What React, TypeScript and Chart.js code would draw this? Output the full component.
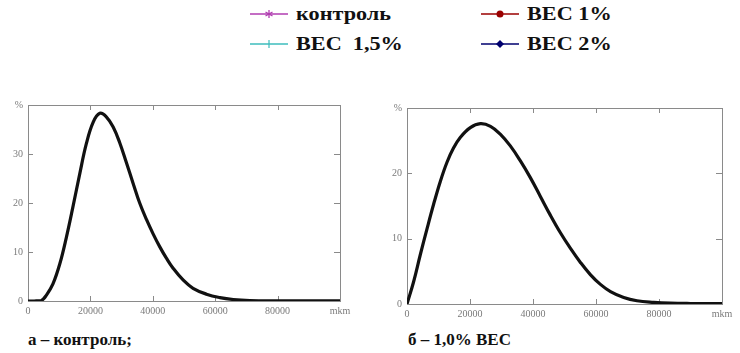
import React, { useEffect, useRef } from "react";
import { Chart, registerables } from "chart.js";

Chart.register(...registerables);

// Control curve (а – контроль)
const ctrlX = [0, 2000, 4300, 5900, 8000, 10200, 12300, 14400, 16600, 18700, 20900, 23000, 25100, 27300, 29400, 31500, 33700, 35800, 38000, 40100, 42200, 44400, 46500, 49700, 52900, 57200, 61500, 65800, 71100, 80000, 90000, 100000];
const ctrlY = [0, 0, 0.1, 1.2, 3.5, 7.6, 13, 19.2, 26, 32.1, 36.5, 38.3, 37.6, 35.5, 32.3, 28.3, 24.0, 20.0, 16.6, 13.7, 11.1, 8.7, 6.7, 4.3, 2.6, 1.4, 0.7, 0.3, 0.1, 0.05, 0.05, 0.05];

// 1,0% ВЕС curve (б)
const bec1X = [0, 2100, 4200, 6350, 8470, 10600, 12700, 14800, 16900, 20100, 23300, 26500, 29600, 32800, 36000, 39200, 42300, 45500, 48700, 51900, 55000, 58200, 61400, 64600, 68800, 73000, 78300, 83600, 90000, 100000];
const bec1Y = [0, 3.4, 7.5, 11.5, 15.3, 18.8, 21.7, 23.9, 25.5, 27.0, 27.6, 27.2, 26.0, 24.2, 21.9, 19.3, 16.5, 13.6, 10.9, 8.5, 6.4, 4.5, 3.0, 1.9, 1.0, 0.5, 0.25, 0.12, 0.08, 0.08];

const xTicks = [0, 20000, 40000, 60000, 80000, 100000];
const xUnit = "mkm";
const yUnit = "%";
const leftYMax = 40;
const rightYMax = 30;

const legendItems = [
  { label: "контроль", color: "#b03cb0", marker: "star" },
  { label: "ВЕС 1%", color: "#9a0000", marker: "circle" },
  { label: "ВЕС  1,5%", color: "#3cbcbc", marker: "plus" },
  { label: "ВЕС 2%", color: "#00006e", marker: "diamond" },
];

const captions = ["а – контроль;", "б – 1,0% ВЕС"];

const FONT = "'Liberation Serif', serif";
const frameColor = "#8a8a8a";
const labelColor = "#7a7a7a";

const framePlugin = {
  id: "framePlugin",
  beforeDatasetsDraw(chart: any) {
    const { ctx, chartArea } = chart;
    const { left, right, top, bottom } = chartArea;
    ctx.save();
    ctx.strokeStyle = frameColor;
    ctx.lineWidth = 1;
    ctx.strokeRect(Math.round(left) + 0.5, Math.round(top) + 0.5, Math.round(right - left), Math.round(bottom - top));
    const xs = chart.scales.x;
    const ys = chart.scales.y;
    ctx.beginPath();
    xs.ticks.forEach((t: any) => {
      const px = Math.round(xs.getPixelForValue(t.value)) + 0.5;
      ctx.moveTo(px, top);
      ctx.lineTo(px, top + 5);
      ctx.moveTo(px, bottom);
      ctx.lineTo(px, bottom - 5);
    });
    ys.ticks.forEach((t: any) => {
      const py = Math.round(ys.getPixelForValue(t.value)) + 0.5;
      ctx.moveTo(left, py);
      ctx.lineTo(left + 5, py);
      ctx.moveTo(right, py);
      ctx.lineTo(right - 6, py);
    });
    ctx.stroke();
    ctx.restore();
  },
};

function makeChart(canvas: HTMLCanvasElement, xs: number[], ys: number[], yMax: number, yAxisWidth: number, xAxisHeight: number, padRight: number, padTop: number) {
  const tickFont = { family: FONT, size: 10 };
  return new Chart(canvas, {
    type: "line",
    data: {
      datasets: [
        {
          data: xs.map((x, i) => ({ x, y: ys[i] })),
          borderColor: "#111111",
          borderWidth: 3.2,
          pointRadius: 0,
          fill: false,
          tension: 0.4,
        },
      ],
    },
    options: {
      animation: false,
      responsive: false,
      maintainAspectRatio: false,
      layout: { padding: { left: 0, right: padRight, top: padTop, bottom: 0 } },
      plugins: { legend: { display: false }, tooltip: { enabled: false } },
      scales: {
        x: {
          type: "linear",
          min: 0,
          max: 100000,
          grid: { display: false, drawTicks: false },
          border: { display: false },
          afterBuildTicks: (scale: any) => {
            scale.ticks = xTicks.map((v) => ({ value: v }));
          },
          ticks: {
            color: labelColor,
            font: tickFont,
            padding: 4,
            maxRotation: 0,
            autoSkip: false,
            callback: (v: any) => (Number(v) === 100000 ? xUnit : String(v)),
          },
          afterFit: (scale: any) => {
            scale.height = xAxisHeight;
            scale.paddingLeft = 0;
            scale.paddingRight = 0;
          },
        },
        y: {
          type: "linear",
          min: 0,
          max: yMax,
          grid: { display: false, drawTicks: false },
          border: { display: false },
          ticks: {
            stepSize: 10,
            color: labelColor,
            font: tickFont,
            padding: 5,
            callback: (v: any) => (Number(v) === yMax ? yUnit : String(v)),
          },
          afterFit: (scale: any) => {
            scale.width = yAxisWidth;
            scale.paddingTop = 0;
            scale.paddingBottom = 0;
          },
        },
      },
    } as any,
    plugins: [framePlugin],
  });
}

function Marker({ type, color }: { type: string; color: string }) {
  let m: React.ReactNode = null;
  if (type === "circle") m = <circle cx={19} cy={6} r={3.5} fill={color} />;
  else if (type === "diamond") m = <polygon points="19,2 23,6 19,10 15,6" fill={color} />;
  else if (type === "plus")
    m = (
      <g stroke={color} strokeWidth={1.2}>
        <line x1={19} y1={2} x2={19} y2={10} />
      </g>
    );
  else if (type === "star")
    m = (
      <g stroke={color} strokeWidth={1.3}>
        <line x1={19} y1={2} x2={19} y2={10} />
        <line x1={15.5} y1={4} x2={22.5} y2={8} />
        <line x1={15.5} y1={8} x2={22.5} y2={4} />
      </g>
    );
  return (
    <svg width={38} height={12} style={{ display: "block" }}>
      <line x1={0} y1={6} x2={38} y2={6} stroke={color} strokeWidth={1.3} />
      {m}
    </svg>
  );
}

export default function App() {
  const leftRef = useRef<HTMLCanvasElement | null>(null);
  const rightRef = useRef<HTMLCanvasElement | null>(null);

  useEffect(() => {
    const c1 = makeChart(leftRef.current!, ctrlX, ctrlY, leftYMax, 28, 19, 30, 10);
    const c2 = makeChart(rightRef.current!, bec1X, bec1Y, rightYMax, 37, 16, 18, 13);
    return () => {
      c1.destroy();
      c2.destroy();
    };
  }, []);

  const legendPos = [
    { lx: 250, tx: 296, y: 14 },
    { lx: 481, tx: 527, y: 14 },
    { lx: 250, tx: 296, y: 44 },
    { lx: 481, tx: 527, y: 44 },
  ];

  return (
    <div style={{ position: "absolute", left: 0, top: 0, width: 740, height: 353, background: "#fff", overflow: "hidden", fontFamily: FONT }}>
      {legendItems.map((it, i) => (
        <React.Fragment key={it.label}>
          <div style={{ position: "absolute", left: legendPos[i].lx, top: legendPos[i].y - 6 }}>
            <Marker type={it.marker} color={it.color} />
          </div>
          <div style={{ position: "absolute", left: legendPos[i].tx, top: legendPos[i].y - 12, fontFamily: FONT, fontSize: 19, fontWeight: "bold", lineHeight: "24px", whiteSpace: "pre", color: "#111", transform: "scaleX(1.17)", transformOrigin: "left center" }}>
            {it.label}
          </div>
        </React.Fragment>
      ))}
      <canvas ref={leftRef} width={370} height={225} style={{ position: "absolute", left: 0, top: 95, width: 370, height: 225 }} />
      <canvas ref={rightRef} width={370} height={225} style={{ position: "absolute", left: 370, top: 95, width: 370, height: 225 }} />
      <div style={{ position: "absolute", left: 28, top: 330, fontFamily: FONT, fontSize: 17, fontWeight: "bold", lineHeight: "20px", whiteSpace: "pre", color: "#111" }}>{captions[0]}</div>
      <div style={{ position: "absolute", left: 408, top: 330, fontFamily: FONT, fontSize: 17, fontWeight: "bold", lineHeight: "20px", whiteSpace: "pre", color: "#111" }}>{captions[1]}</div>
    </div>
  );
}
